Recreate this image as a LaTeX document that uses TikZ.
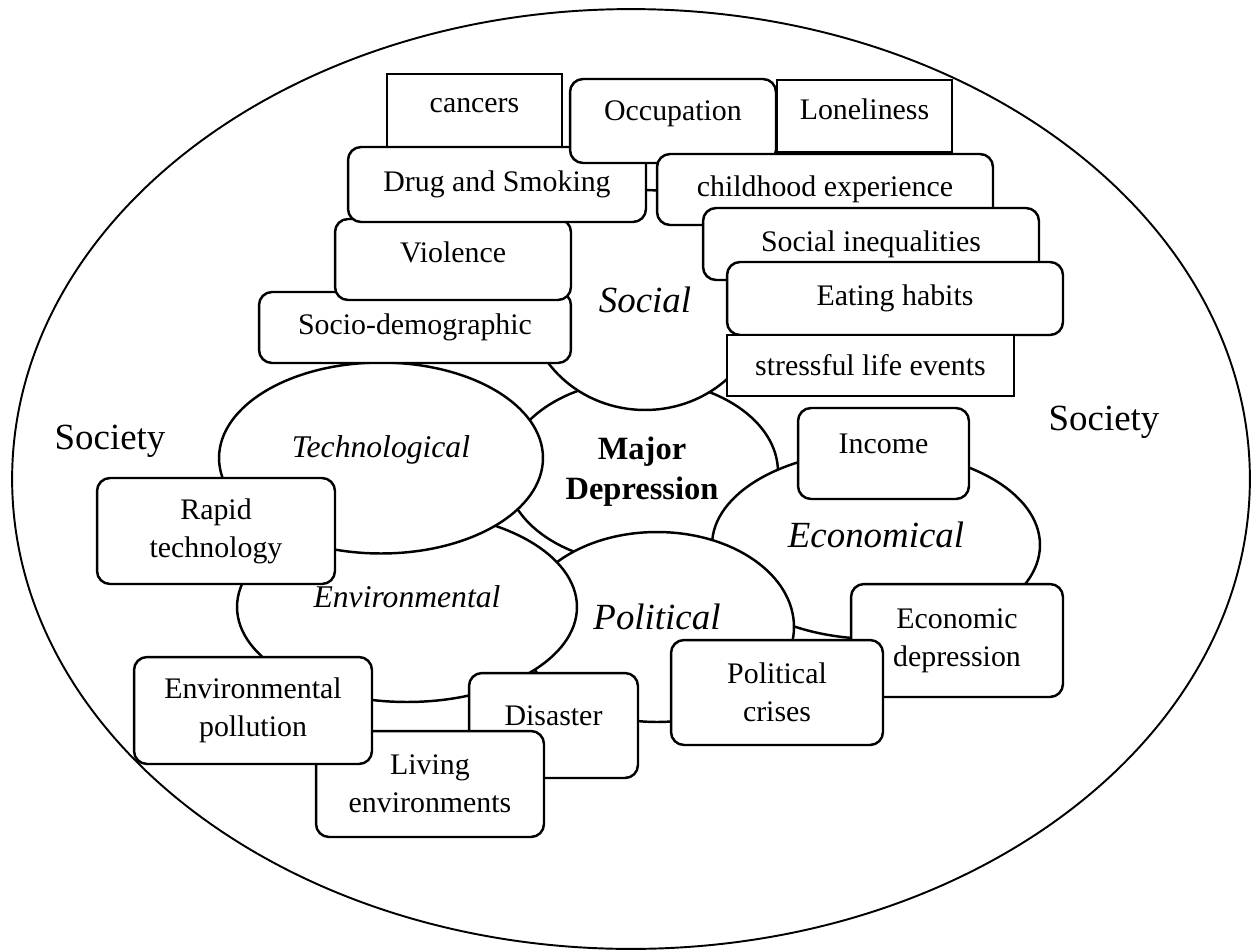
\documentclass[tikz,border=0pt]{standalone}
\usepackage{fontspec}
\setmainfont{Liberation Serif}
\usetikzlibrary{shapes.geometric}
\tikzset{
  sectorell/.style={ellipse, draw, line width=1.4pt, fill=white, inner sep=0pt, font=\fontsize{21}{25}\selectfont\itshape},
  factorbox/.style={rectangle, rounded corners=0.26cm, draw, line width=1.4pt, fill=white, inner sep=0pt, align=center, font=\fontsize{17}{21.5}\selectfont},
  plainbox/.style={rectangle, draw, line width=1.4pt, fill=white, inner sep=0pt, align=center, font=\fontsize{17}{21.5}\selectfont},
  outertext/.style={font=\fontsize{21}{25}\selectfont},
  lift/.style={text depth=#1}
}
\begin{document}
\begin{tikzpicture}[x=0.02cm, y=-0.02cm]
		\useasboundingbox (0,0) rectangle (1253,950);
		
		% Society (outer ring)
		\node[draw, ellipse, line width=1.1pt, inner sep=0pt, minimum width=24.76cm, minimum height=18.8cm] (society) at (631,479) {};
		\node[outertext] (socleft) at (110,441) {Society};
		\node[outertext] (socright) at (1104,422) {Society};
		
		% Major depression
		\node[sectorell, minimum width=5.44cm, minimum height=3.68cm, align=center, font=\fontsize{18.5}{22.7}\selectfont\bfseries] (major) at (642,472) {Major\\Depression};
		
		% Aspects round it
		\node[sectorell, minimum width=6.56cm, minimum height=3.76cm, lift=0.4cm] (econ) at (876,545) {Economical};
		\node[sectorell, minimum width=5.48cm, minimum height=3.8cm, lift=0.4cm] (pol) at (657,627) {Political};
		\node[sectorell, minimum width=6.8cm, minimum height=3.8cm, lift=0.4cm, font=\fontsize{18}{22}\selectfont\itshape] (env) at (407,607) {Environmental};
		\node[sectorell, minimum width=6.48cm, minimum height=3.82cm, lift=0.45cm, font=\fontsize{18}{22}\selectfont\itshape] (tech) at (381,458) {Technological};
		\node[sectorell, minimum width=4.72cm, minimum height=4.4cm] (social) at (645,300) {Social};
		
		% Social factors, left
		\node[factorbox, minimum width=6.24cm, minimum height=1.42cm] (sociodemo) at (415,327.5) {Socio-demographic};
		\node[factorbox, minimum width=4.72cm, minimum height=1.62cm, lift=0.3cm] (violence) at (453,259.5) {Violence};
		\node[plainbox, minimum width=3.5cm, minimum height=1.52cm, lift=0.28cm] (cancers) at (474.5,112) {cancers};
		\node[factorbox, minimum width=5.96cm, minimum height=1.5cm] (drug) at (497,184.5) {Drug and Smoking};
		
		% Social factors, right
		\node[factorbox, minimum width=4.12cm, minimum height=1.68cm, lift=0.4cm] (occup) at (673,121) {Occupation};
		\node[plainbox, minimum width=3.5cm, minimum height=1.44cm, lift=0.28cm] (lonely) at (864.5,116) {Loneliness};
		\node[factorbox, minimum width=6.72cm, minimum height=1.42cm] (childhood) at (825,189.5) {childhood experience};
		\node[factorbox, minimum width=6.72cm, minimum height=1.44cm] (inequal) at (871,244) {Social inequalities};
		\node[factorbox, minimum width=6.72cm, minimum height=1.46cm] (eating) at (895,298.5) {Eating habits};
		\node[plainbox, minimum width=5.74cm, minimum height=1.22cm] (stress) at (870.5,365.5) {stressful life events};
		
		% Economical factors
		\node[factorbox, minimum width=3.42cm, minimum height=1.82cm, lift=0.4cm] (income) at (883.5,453.5) {Income};
		\node[factorbox, minimum width=4.24cm, minimum height=2.26cm] (econdep) at (957,640.5) {Economic\\depression};
		
		% Political factors
		\node[factorbox, minimum width=4.24cm, minimum height=2.1cm] (polcrises) at (777,692.5) {Political\\crises};
		
		% Technological factors
		\node[factorbox, minimum width=4.76cm, minimum height=2.12cm] (rapid) at (216,531) {Rapid\\technology};
		
		% Environmental factors
		\node[factorbox, minimum width=3.38cm, minimum height=2.1cm, lift=0.4cm] (disaster) at (553.5,725.5) {Disaster};
		\node[factorbox, minimum width=4.56cm, minimum height=2.12cm] (living) at (430,784) {Living\\environments};
		\node[factorbox, minimum width=4.76cm, minimum height=2.14cm] (envpoll) at (253,710.5) {Environmental\\pollution};
		
	\end{tikzpicture}
\end{document}
